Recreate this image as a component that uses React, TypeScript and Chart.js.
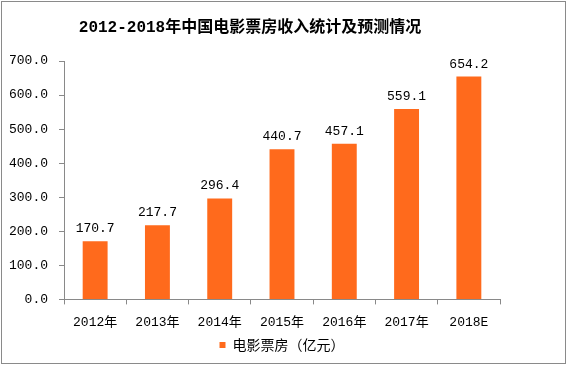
import React, { useEffect, useRef } from "react";
import { Chart, registerables } from "chart.js";

Chart.register(...registerables);

const categories = ["2012年", "2013年", "2014年", "2015年", "2016年", "2017年", "2018E"];
const boxOffice = [170.7, 217.7, 296.4, 440.7, 457.1, 559.1, 654.2];
const seriesName = "电影票房（亿元）";
const titleText = "2012-2018年中国电影票房收入统计及预测情况";
const yMin = 0;
const yMax = 700;
const yStep = 100;

const BAR = "#FF6A1C";
const AXIS = "#898989";
const MONO = "'Liberation Mono', 'Noto Sans CJK SC', monospace";
const CJK = "'Noto Sans CJK SC', 'Liberation Mono', sans-serif";

export default function App() {
  const ref = useRef<HTMLCanvasElement>(null);

  useEffect(() => {
    document.body.style.margin = "0";
    if (!ref.current) return;

    const bgPlugin = {
      id: "bgBorder",
      beforeDraw(chart: any) {
        const ctx = chart.ctx;
        ctx.save();
        ctx.fillStyle = "#ffffff";
        ctx.fillRect(0, 0, chart.width, chart.height);
        ctx.restore();
      },
      afterDraw(chart: any) {
        const ctx = chart.ctx;
        ctx.save();
        ctx.strokeStyle = "#8a8a8a";
        ctx.lineWidth = 1;
        ctx.strokeRect(1.5, 1.5, chart.width - 4, chart.height - 4);
        ctx.restore();
      },
    };

    const labelPlugin = {
      id: "valueLabels",
      afterDatasetsDraw(chart: any) {
        const ctx = chart.ctx;
        const meta = chart.getDatasetMeta(0);
        ctx.save();
        ctx.font = `13px ${MONO}`;
        ctx.fillStyle = "#000000";
        ctx.textAlign = "center";
        ctx.textBaseline = "bottom";
        meta.data.forEach((el: any, i: number) => {
          ctx.fillText(boxOffice[i].toFixed(1), el.x, el.y - 6);
        });
        ctx.restore();
      },
    };

    const chart = new Chart(ref.current, {
      type: "bar",
      data: {
        labels: categories,
        datasets: [
          {
            label: seriesName,
            data: boxOffice,
            backgroundColor: BAR,
            borderWidth: 0,
            categoryPercentage: 1,
            barPercentage: 0.4,
          },
        ],
      },
      options: {
        animation: false,
        responsive: false,
        maintainAspectRatio: false,
        devicePixelRatio: 1,
        layout: { padding: { left: 0, right: 68, top: 0, bottom: 4 } },
        plugins: {
          title: {
            display: true,
            text: titleText,
            color: "#000000",
            font: { family: MONO, size: 16, weight: "bold", lineHeight: 1.25 },
            padding: { top: 18, bottom: 23 },
          },
          legend: {
            display: true,
            position: "bottom",
            fullSize: false,
            labels: {
              boxWidth: 6,
              boxHeight: 6,
              color: "#000000",
              font: { family: CJK, size: 14 },
              padding: 6,
            },
          },
          tooltip: { enabled: false },
        },
        scales: {
          x: {
            grid: {
              display: true,
              drawOnChartArea: false,
              drawTicks: true,
              tickLength: 5,
              color: AXIS,
              offset: true,
            },
            border: { display: true, color: AXIS },
            ticks: {
              color: "#000000",
              font: { family: MONO, size: 13 },
              padding: 10,
              maxRotation: 0,
              autoSkip: false,
            },
            afterFit: (scale: any) => {
              scale.height = scale.height - 8;
            },
          },
          y: {
            min: yMin,
            max: yMax,
            grid: {
              display: true,
              drawOnChartArea: false,
              drawTicks: true,
              tickLength: 5,
              color: AXIS,
            },
            border: { display: true, color: AXIS },
            ticks: {
              stepSize: yStep,
              color: "#000000",
              font: { family: MONO, size: 13 },
              padding: 11,
              callback: (v: any) => Number(v).toFixed(1),
            },
            afterFit: (scale: any) => {
              scale.width = 64;
            },
          },
        },
      },
      plugins: [bgPlugin, labelPlugin],
    });

    return () => chart.destroy();
  }, []);

  return (
    <div style={{ width: 568, height: 366 }}>
      <canvas ref={ref} width={568} height={366} style={{ display: "block" }} />
    </div>
  );
}
